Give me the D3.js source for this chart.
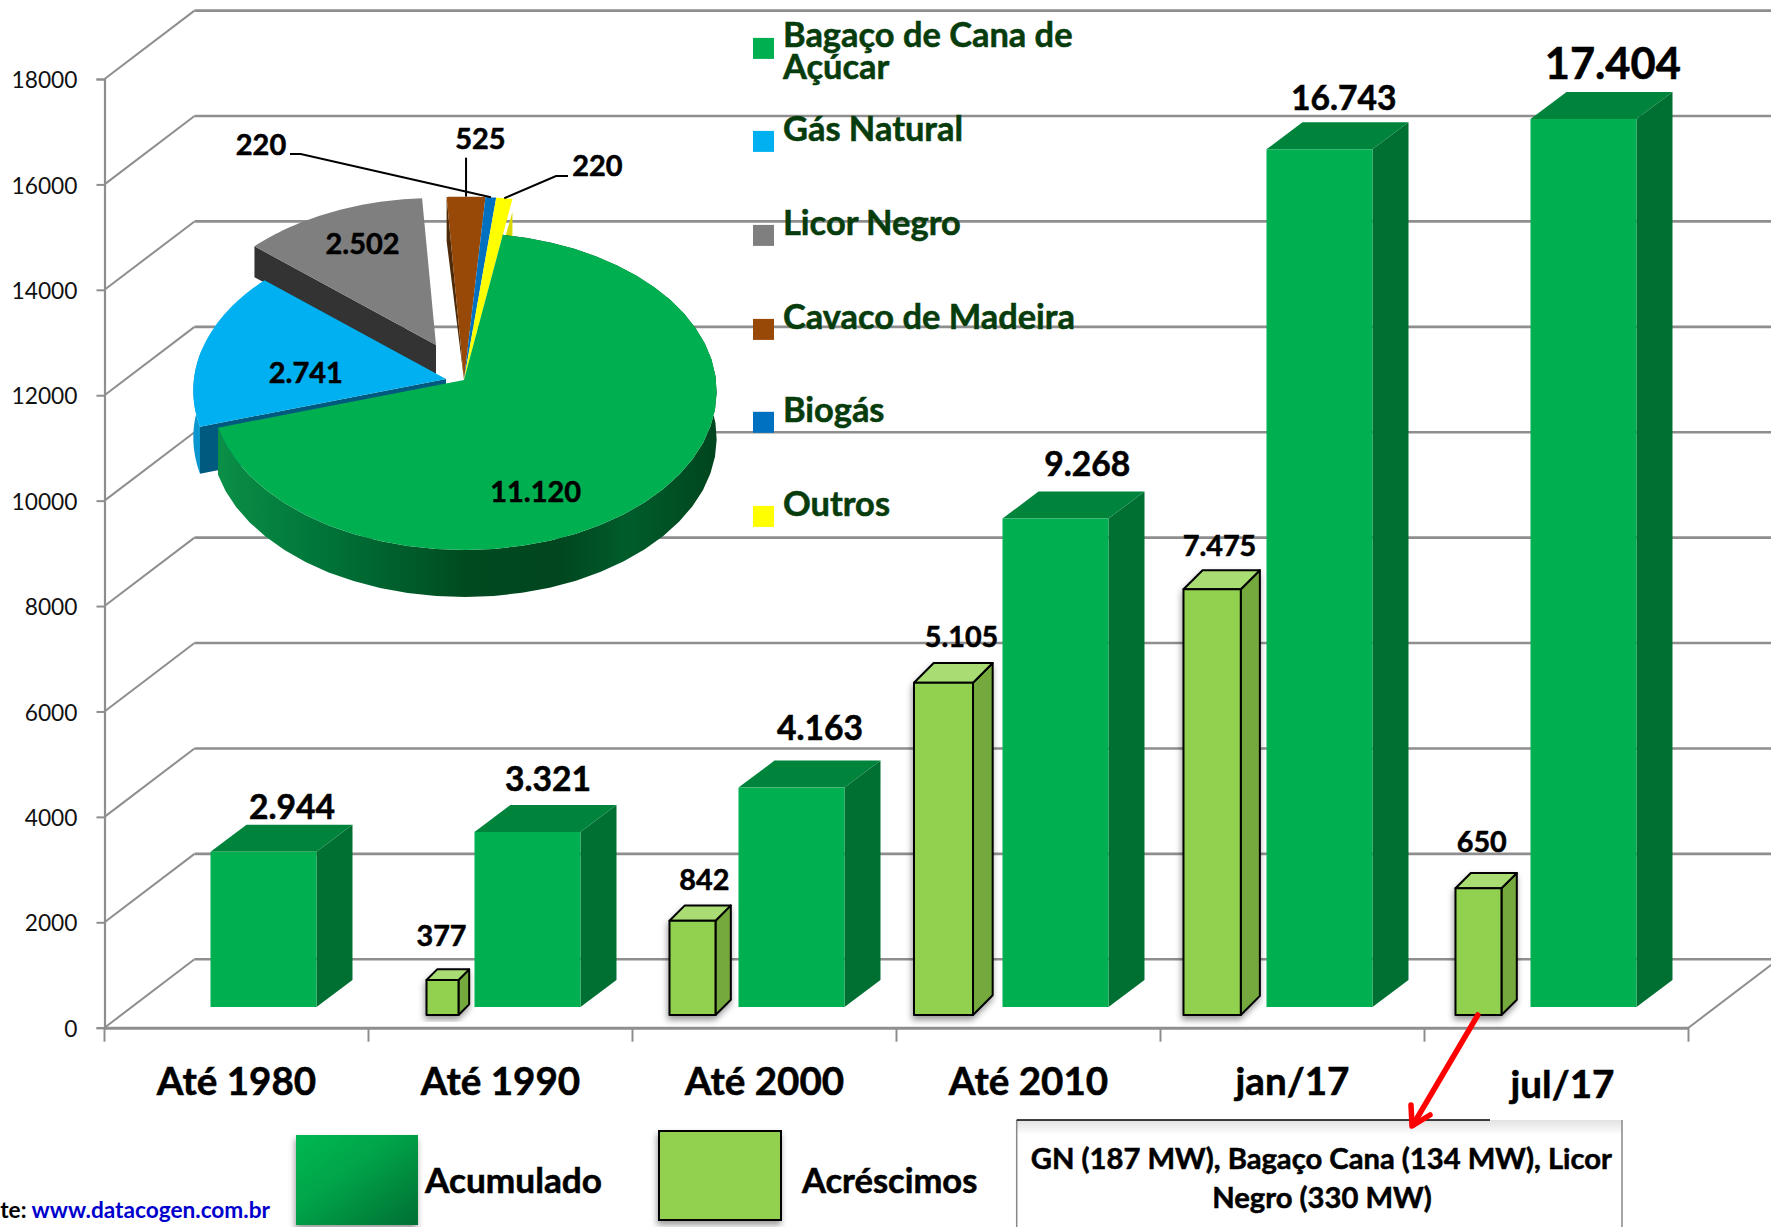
<!DOCTYPE html>
<html><head><meta charset="utf-8">
<script src="https://cdn.jsdelivr.net/npm/d3@7/dist/d3.min.js"></script>
<style>html,body{margin:0;padding:0;background:#fff;overflow:hidden}svg{display:block}text{font-family:Lato,Carlito,Calibri,sans-serif}</style>
</head><body><div id="c"></div>
<script>
// ---------- data ----------
const categories = ["Até 1980","Até 1990","Até 2000","Até 2010","jan/17","jul/17"];
const yTicks = [0,2000,4000,6000,8000,10000,12000,14000,16000,18000];
const acumuladoLido = [2944,3321,4163,9268,16274,16848];
const acumuladoLabels = ["2.944","3.321","4.163","9.268","16.743","17.404"];
const acrescimoCats = ["Até 1990","Até 2000","Até 2010","jan/17","jul/17"];
const acrescimoLido = [664,1789,6305,8077,2404];
const acrescimoLabels = ["377","842","5.105","7.475","650"];
const fontes = ["Bagaço de Cana de Açúcar","Gás Natural","Licor Negro","Cavaco de Madeira","Biogás","Outros"];
const fonteValores = [11120,2741,2502,525,220,220];
const fonteLabels = ["11.120","2.741","2.502","525","220","220"];
const notaLinhas = ["GN (187 MW), Bagaço Cana (134 MW), Licor","Negro (330 MW)"];

// ---------- layout (kept apart from the data) ----------
const W=1771,H=1227;
const wallDx=90, wallDy=-68.4;
const darkBaseLift=20.7, lightBaseLift=12.7;
const darkDepth=[36,-27];
const lightLeft=[.2197,.1402,.0663,.0871,.1174];   // left edge, in band steps
const lightWidth=[.1212,.1742,.2235,.2170,.1742];  // width, in band steps
const darkLabelDx=[81.5,73.5,81.5,84.8,77.3,82.3], darkLabelDy=[-32.4,-41,-47.3,-42.3,-39.3,-40], darkLabelSize=[38,38,38,38,38,49];
const lightLabelDx=[15,34.8,47.5,36,26.3], lightLabelDy=[-34,-30.7,-36,-33.3,-36.3];
const colors={bar:"#00b050",barTop:"#00843c",barSide:"#006f32",lb:"#92d050",lbTop:"#a9dc73",lbSide:"#74a83e",grid:"#8e8e8e",legend:"#073c0c"};
const pieColors=["#00b050","#00b0f0","#7f7f7f","#984807","#0070c0","#ffff00"];

const svg=d3.select("#c").append("svg").attr("width",W).attr("height",H).attr("viewBox",`0 0 ${W} ${H}`);
const defs=svg.append("defs");
const g1=defs.append("linearGradient").attr("id","gSide").attr("gradientUnits","userSpaceOnUse").attr("x1",218).attr("x2",717).attr("y1",0).attr("y2",0);
[[0,"#0b8f46"],[.2,"#00763a"],[.5,"#004a20"],[.68,"#00461f"],[.82,"#005c2b"],[1,"#00451e"]].forEach(s=>g1.append("stop").attr("offset",s[0]).attr("stop-color",s[1]));
const g2=defs.append("linearGradient").attr("id","gLeg").attr("x1",0).attr("y1",0).attr("x2",1).attr("y2",1);
[[0,"#00b850"],[.4,"#00a54a"],[1,"#006f32"]].forEach(s=>g2.append("stop").attr("offset",s[0]).attr("stop-color",s[1]));
const g3=defs.append("linearGradient").attr("id","gBox").attr("x1",0).attr("y1",0).attr("x2",0).attr("y2",1);
[[0,"#e2e2e2"],[1,"#ffffff"]].forEach(s=>g3.append("stop").attr("offset",s[0]).attr("stop-color",s[1]));
const shf=defs.append("filter").attr("id","sh").attr("x","-30%").attr("y","-10%").attr("width","160%").attr("height","125%");
shf.append("feDropShadow").attr("dx",-1).attr("dy",4).attr("stdDeviation",3).attr("flood-color","#000").attr("flood-opacity",.4);

function txt(s,x,y,size,o={}){
  const c=o.c||"#000";
  return svg.append("text").attr("x",x).attr("y",y).attr("font-size",size*.885)
    .attr("font-weight",o.w||700).attr("fill",c).attr("stroke",c).attr("stroke-width",.55).attr("text-anchor",o.a||"middle").text(s);
}

// ---------- scales ----------
const x=d3.scaleBand().domain(categories).range([104.5,1688.5]);
const y=d3.scaleLinear().domain([0,18000]).range([1027.7,79]);
const step=x.step();

// ---------- walls and grid ----------
const grid=svg.append("g").attr("stroke",colors.grid).attr("fill","none");
grid.selectAll("line.back").data(yTicks).join("line").attr("class","back")
  .attr("x1",x.range()[0]+wallDx).attr("x2",W).attr("y1",d=>y(d)+wallDy).attr("y2",d=>y(d)+wallDy).attr("stroke-width",2.6);
grid.selectAll("line.wall").data(yTicks).join("line").attr("class","wall")
  .attr("x1",x.range()[0]).attr("x2",x.range()[0]+wallDx).attr("y1",d=>y(d)).attr("y2",d=>y(d)+wallDy).attr("stroke-width",2);
grid.append("line").attr("x1",x.range()[1]).attr("x2",x.range()[1]+wallDx).attr("y1",y(0)).attr("y2",y(0)+wallDy).attr("stroke-width",2);

// axes through d3.axis
const yAxis=svg.append("g").attr("transform",`translate(${x.range()[0]},0)`)
  .call(d3.axisLeft(y).tickValues(yTicks).tickFormat(d3.format("d")).tickSize(8).tickPadding(19));
yAxis.select(".domain").attr("stroke",colors.grid).attr("stroke-width",2.2);
yAxis.selectAll(".tick line").attr("stroke",colors.grid).attr("stroke-width",2);
yAxis.selectAll("text").attr("font-family","Lato").attr("font-size",25.7*.885).attr("fill","#111").attr("dy","0.38em");

const xAxis=svg.append("g").attr("transform",`translate(0,${y(0)})`)
  .call(d3.axisBottom(x).tickSize(0).tickPadding(39.5));
xAxis.select(".domain").attr("stroke",colors.grid).attr("stroke-width",3);
xAxis.selectAll("text").attr("font-family","Lato").attr("font-size",43.6*.885).attr("font-weight",700).attr("fill","#000").attr("stroke","#000").attr("stroke-width",.55).attr("dy",".71em")
  .attr("dx",(d,i)=>i==5?6:0).attr("transform",(d,i)=>i==5?"translate(0,3)":null);
svg.append("g").selectAll("line").data(d3.range(7)).join("line")
  .attr("x1",i=>x.range()[0]+i*step).attr("x2",i=>x.range()[0]+i*step).attr("y1",y(0)).attr("y2",y(0)+14)
  .attr("stroke",colors.grid).attr("stroke-width",2);

// ---------- dark bars ----------
const pts=a=>a.map(p=>p.join(",")).join(" ");
const darkW=x.bandwidth()*.4015, darkOff=step*.4015;
const dark=svg.append("g").selectAll("g").data(categories).join("g");
dark.each(function(c,i){
  const g=d3.select(this), l=x(c)+darkOff, r=l+darkW, b=y(0)-darkBaseLift, t=y(acumuladoLido[i])-darkBaseLift;
  const [dx,dy]=darkDepth;
  g.append("polygon").attr("points",pts([[r,t],[r+dx,t+dy],[r+dx,b+dy],[r,b]])).attr("fill",colors.barSide);
  g.append("polygon").attr("points",pts([[l,t],[l+dx,t+dy],[r+dx,t+dy],[r,t]])).attr("fill",colors.barTop);
  g.append("rect").attr("x",l).attr("y",t).attr("width",darkW).attr("height",b-t).attr("fill",colors.bar);
  txt(acumuladoLabels[i],l+darkLabelDx[i],t+darkLabelDy[i],darkLabelSize[i]);
});

// ---------- light bars ----------
const light=svg.append("g").selectAll("g").data(acrescimoCats).join("g");
light.each(function(c,i){
  const l=x(c)+lightLeft[i]*step, w=lightWidth[i]*step, r=l+w, b=y(0)-lightBaseLift, t=y(acrescimoLido[i])-lightBaseLift, d=w/3;
  const g=d3.select(this).append("g").attr("filter","url(#sh)").attr("stroke","#000").attr("stroke-width",2).attr("stroke-linejoin","round");
  g.append("polygon").attr("points",pts([[r,t],[r+d,t-d],[r+d,b-d],[r,b]])).attr("fill",colors.lbSide);
  g.append("polygon").attr("points",pts([[l,t],[l+d,t-d],[r+d,t-d],[r,t]])).attr("fill",colors.lbTop);
  g.append("rect").attr("x",l).attr("y",t).attr("width",w).attr("height",b-t).attr("fill",colors.lb);
  txt(acrescimoLabels[i],l+lightLabelDx[i],t+lightLabelDy[i],32.5);
});

// ---------- 3D pie ----------
const pie=d3.pie().sort(null).value(d=>d)(fonteValores);
const deg=a=>a*180/Math.PI;
// perspective warp: data share -> angle on the tilted disc
const cumul=[0,...pie.map(d=>deg(d.endAngle))];
const warp=d3.scaleLinear().domain(cumul).range([9.5,252.8,311,356.6,364.2,366.3,369.5]);
const pc={x:464,y:380,R:252,Ry:157.7,p:.0726};
function proj(thetaDeg,r,off){
  const a=thetaDeg*Math.PI/180,u=Math.sin(a)*r,v=-Math.cos(a)*r,s=1/(1-pc.p*v);
  return [pc.x+off[0]+pc.R*u*s,pc.y+off[1]+pc.Ry*v*s];
}
const sliceOff=[[0,0],[-18,-1],[-28,-35],[0,0],[0,0],[0,0]];
const sliceR=[1,1,1,1.27,1.27,1.27];
const line=d3.line();
const rim=(a0,a1,r,off)=>d3.range(0,41).map(k=>proj(a0+(a1-a0)*k/40,r,off));
const shift=(a,h)=>a.map(p=>[p[0],p[1]+h]);
const P=svg.append("g");
const sl=pie.map((d,i)=>({i,a0:warp(deg(d.startAngle)),a1:warp(deg(d.endAngle)),off:sliceOff[i],r:sliceR[i],apex:proj(0,0,sliceOff[i])}));
const topPath=s=>line([s.apex,...rim(s.a0,s.a1,s.r,s.off)])+"Z";

// grey slice
{const s=sl[2],e=proj(s.a0,s.r,s.off);
 P.append("polygon").attr("points",pts([s.apex,e,[e[0],e[1]+31],[s.apex[0],s.apex[1]+29]])).attr("fill","#333");
 P.append("path").attr("d",topPath(s)).attr("fill",pieColors[2]);}
// brown, biogas, yellow
{const s=sl[3],e=proj(s.a0,s.r,s.off);
 P.append("polygon").attr("points",pts([s.apex,e,[e[0],e[1]+44]])).attr("fill","#4d2a08");
 P.append("path").attr("d",topPath(s)).attr("fill",pieColors[3]);
 const b=sl[4]; P.append("path").attr("d",topPath(b)).attr("fill",pieColors[4]);
 const o=sl[5],r=proj(o.a1,o.r,o.off);
 P.append("polygon").attr("points",pts([o.apex,[r[0],r[1]+13],[r[0],r[1]+40]])).attr("fill","#d9d900");
 P.append("path").attr("d",topPath(o)).attr("fill",pieColors[5]);}
// blue slice
{const s=sl[1],h=47,e=proj(s.a0,s.r,s.off);
 const rr=rim(s.a0,s.a0+28,s.r,s.off);
 P.append("path").attr("d",line([...rr,...shift(rr,h).reverse()])+"Z").attr("fill","#0a97cf");
 P.append("polygon").attr("points",pts([s.apex,e,[e[0],e[1]+h],[s.apex[0],s.apex[1]+h]])).attr("fill","#005a80");
 P.append("path").attr("d",topPath(s)).attr("fill",pieColors[1]);}
// green slice
{const s=sl[0],h=47,rr=rim(s.a0,s.a1,s.r,s.off);
 P.append("path").attr("d",line([...rr,...shift(rr,h).reverse()])+"Z").attr("fill","url(#gSide)");
 P.append("path").attr("d",topPath(s)).attr("fill",pieColors[0]);}

// pie labels and leaders
const leaders=svg.append("g").attr("fill","none").attr("stroke","#000").attr("stroke-width",2);
const biog=proj((sl[4].a0+sl[4].a1)/2,1.27,[0,0]), brown=proj((sl[3].a0+sl[3].a1)/2,1.27,[0,0]), outr=proj((sl[5].a0+sl[5].a1)/2,1.27,[0,0]);
leaders.append("path").attr("d",line([[290,154],[300.7,154],[biog[0],biog[1]]]));
leaders.append("path").attr("d",line([[brown[0],157.7],[brown[0],brown[1]]]));
leaders.append("path").attr("d",line([[568,176],[556,176],[outr[0],outr[1]]]));
const pieLabelPos=[[535.6,502],[305.8,382.7],[362.5,254.3],[480.3,149],[261,155],[597.4,176]];
fonteLabels.forEach((t,i)=>txt(t,pieLabelPos[i][0],pieLabelPos[i][1],32.7));

// pie legend
const legendSwatchY=[37.9,130.9,224.9,318.9,411.8,505.9];
const legendBase=[[46.5,78.5],[140.5],[234.8],[328.9],[421.8],[515.5]];
const legendLines=[["Bagaço de Cana de","Açúcar"],["Gás Natural"],["Licor Negro"],["Cavaco de Madeira"],["Biogás"],["Outros"]];
fontes.forEach((n,i)=>{
  svg.append("rect").attr("x",753).attr("y",legendSwatchY[i]).attr("width",21).attr("height",21).attr("fill",pieColors[i]);
  legendLines[i].forEach((l,j)=>txt(l,783,legendBase[i][j],38.9,{a:"start",c:colors.legend}));
});

// bottom legend
svg.append("rect").attr("x",296).attr("y",1135).attr("width",122).attr("height",90).attr("fill","url(#gLeg)").attr("filter","url(#sh)");
txt("Acumulado",425,1192.7,39.8,{a:"start"});
svg.append("rect").attr("x",659).attr("y",1131).attr("width",122).attr("height",89).attr("fill",colors.lb).attr("stroke","#000").attr("stroke-width",2).attr("filter","url(#sh)");
txt("Acréscimos",802,1192.7,39,{a:"start"});

// source
const fonte=svg.append("text").attr("x",270).attr("y",1218).attr("text-anchor","end").attr("font-size",25.6*.885).attr("font-weight",700);
fonte.append("tspan").text("Fonte: ");
fonte.append("tspan").attr("fill","#0000cc").text("www.datacogen.com.br");

// note box
svg.append("rect").attr("x",1016.7).attr("y",1120).attr("width",605.3).attr("height",120).attr("fill","#fff");
svg.append("rect").attr("x",1016.7).attr("y",1120).attr("width",605.3).attr("height",15).attr("fill","url(#gBox)");
svg.append("path").attr("d","M1016.7,1230V1120M1622,1120V1230").attr("stroke","#888").attr("stroke-width",1.5).attr("fill","none");
svg.append("path").attr("d","M1016.7,1120H1490").attr("stroke","#000").attr("stroke-width",1.5).attr("fill","none");
txt(notaLinhas[0],1321.4,1169.3,33);
txt(notaLinhas[1],1322,1208,33);

// red arrow
const ar=svg.append("g").attr("fill","none").attr("stroke","#f00").attr("stroke-width",5.5).attr("stroke-linecap","round").attr("stroke-linejoin","round");
ar.append("path").attr("d",line([[1477.8,1015],[1413,1125]]));
ar.append("path").attr("d",line([[1411,1105],[1412,1126],[1430,1115]]));
</script></body></html>
